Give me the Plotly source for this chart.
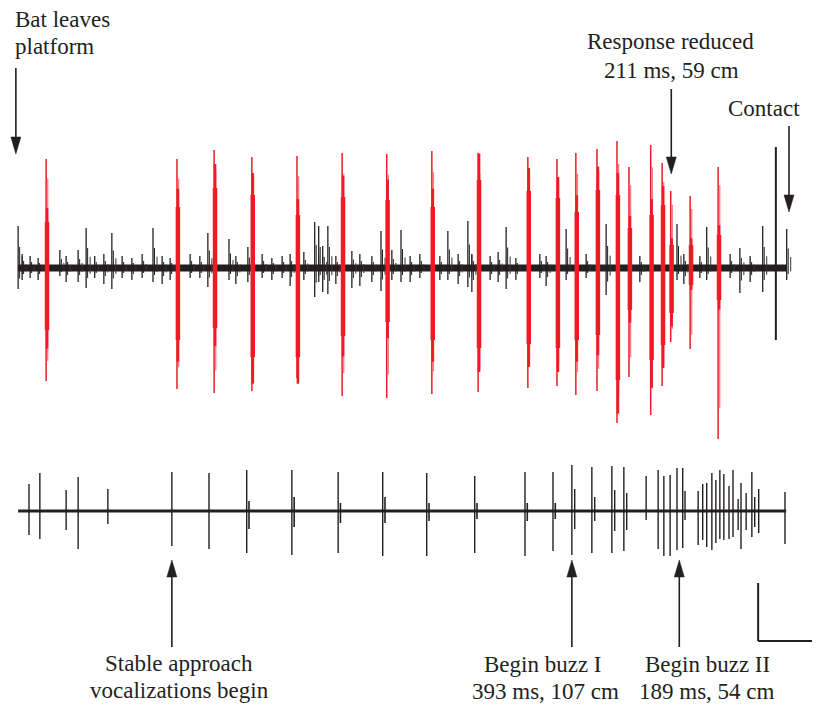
import plotly.graph_objects as go

# ---------------- DATA (time in ms relative to contact; amplitudes in a.u.) ----------------
# Neural recording (top trace): red evoked bursts
burst_t = [-1300, -1071, -1006, -940, -861, -782, -704, -625, -544, -457,
           -406, -373, -336, -301, -280, -242, -222, -207, -173, -124]
burst_up = [109, 109, 118, 111, 112, 115, 114, 117, 115, 111,
            109, 115, 119, 127, 101, 123, 105, 77, 72, 101]
burst_down = [113, 121, 125, 123, 110, 128, 130, 126, 124, 120,
              118, 127, 123, 155, 109, 147, 118, 74, 81, 171]
burst_core_up = [46, 61, 80, 73, 53, 71, 68, 61, 88, 77,
                 70, 56, 78, 73, 40, 53, 63, 23, 23, 33]
burst_core_down = [62, 72, 60, 89, 89, 68, 54, 72, 80, 76,
                   80, 72, 67, 112, 42, 92, 77, 45, 17, 32]

# Neural recording: background (black) spikes
noise_t = [-1349, -1342, -1328, -1314, -1276, -1265, -1244, -1230, -1215, -1199,
           -1185, -1167, -1150, -1132, -1113, -1097, -1083, -1048, -1031, -1017,
           -980, -968, -947, -922, -905, -887, -873, -849, -830, -823,
           -816, -807, -793, -765, -751, -730, -714, -695, -679, -663,
           -646, -611, -597, -579, -562, -555, -523, -509, -495, -478,
           -436, -425, -390, -355, -320, -261, -196, -184, -156, -144,
           -103, -86, -68, -46, -4]
noise_up = [42, 14, 12, 10, 18, 12, 18, 40, 12, 14,
            35, 12, 10, 14, 40, 12, 10, 14, 12, 35,
            29, 12, 21, 14, 10, 12, 14, 16, 46, 42,
            22, 42, 12, 17, 14, 12, 37, 18, 38, 12,
            14, 12, 37, 14, 47, 14, 12, 16, 41, 10,
            14, 12, 39, 14, 44, 12, 44, 14, 12, 41,
            14, 20, 12, 42, 39]
noise_down = [21, 12, 10, 12, 8, 14, 14, 20, 10, 16,
              21, 10, 12, 10, 14, 16, 12, 10, 10, 19,
              12, 16, 14, 10, 12, 10, 18, 12, 29, 14,
              24, 26, 16, 20, 18, 14, 23, 12, 14, 14,
              10, 12, 12, 16, 19, 24, 12, 14, 21, 12,
              10, 18, 12, 10, 27, 14, 12, 16, 10, 12,
              10, 25, 14, 24, 12]
# large black unit at contact
contact_t = [-23]
contact_up = [121]
contact_down = [72]

# Echolocation audio (bottom trace): vocalizations
call_t = [-1330, -1311, -1265, -1244, -1192, -1080, -1015, -949, -870, -789,
          -711, -634, -550, -462, -413, -380, -375, -345, -340, -310,
          -305, -289, -284, -250, -229, -219, -208, -196, -186, -182,
          -159, -151, -144, -135, -128, -121, -114, -105, -98, -89,
          -84, -75, -65, -60, -53, -7]
call_up = [27, 38, 21, 34, 22, 39, 38, 41, 41, 39,
           39, 38, 35, 39, 39, 46, 22, 44, 14, 45,
           21, 44, 18, 35, 41, 35, 36, 43, 43, 20,
           20, 27, 28, 38, 31, 41, 37, 25, 41, 12,
           28, 18, 39, 14, 22, 19]
call_down = [24, 28, 19, 38, 13, 35, 38, 42, 44, 42,
             45, 45, 42, 45, 40, 44, 18, 42, 10, 42,
             20, 40, 19, 9, 38, 45, 45, 39, 37, 9,
             34, 29, 36, 39, 32, 28, 29, 28, 26, 19,
             38, 19, 26, 16, 22, 33]
# echoes following the calls
echo_t = [-945, -866, -785, -707, -630, -546, -458, -409]
echo_up = [10, 14, 8, 14, 8, 8, 8, 8]
echo_down = [18, 16, 12, 12, 10, 8, 10, 8]

trace_start = -1349
neural_end = -4
audio_end = -5

# annotations: (text, time ms, row, anchor)
label_lines = [
    ("Bat leaves", -1358, 19, "left"),
    ("platform", -1358, 46, "left"),
    ("Response reduced", -208, 41, "center"),
    ("211 ms, 59 cm", -206, 70, "center"),
    ("Contact", -44, 108, "center"),
    ("Stable approach", -1067, 663, "center"),
    ("vocalizations begin", -1067, 690, "center"),
    ("Begin buzz I", -430, 664, "center"),
    ("393 ms, 107 cm", -427, 691, "center"),
    ("Begin buzz II", -143, 664, "center"),
    ("189 ms, 54 cm", -143, 691, "center"),
]
# arrows: time, tail y, tip y
arrow_t = [-1353, -206, 0, -1080, -380, -192]
arrow_tail = [68, 89, 126, 647, 647, 647]
arrow_tip = [154, 174, 212, 560, 560, 560]

scale_ms = 100  # horizontal scale bar

# ---------------- LAYOUT CONSTANTS ----------------
MS_PER_PX = 1.75
PAGE_OFFSET = 8          # browser body margin
TOP_BASE = 268
BOT_BASE = 511
BLACK = "#231F20"
RED = "#ED1C24"
PINK = "rgba(237,28,36,0.55)"


def segs(ts, ups, downs, base, dx=0.0, frac=1.0):
    xs, ys = [], []
    for t, u, d in zip(ts, ups, downs):
        xs += [t + dx, t + dx, None]
        ys += [base - u * frac, base + d * frac, None]
    return xs, ys


fig = go.Figure()


def add_line(xs, ys, color, width):
    fig.add_trace(go.Scatter(x=xs, y=ys, mode="lines", line=dict(color=color, width=width),
                             hoverinfo="skip", showlegend=False))


# baselines (noise bands)
add_line([trace_start, neural_end], [TOP_BASE, TOP_BASE], BLACK, 7)
add_line([trace_start, audio_end], [BOT_BASE, BOT_BASE], BLACK, 3)

# neural background spikes (with fuzz)
x, y = segs(noise_t, noise_up, noise_down, TOP_BASE, dx=4 * MS_PER_PX, frac=0.28)
add_line(x, y, "#333", 1.0)
x, y = segs(noise_t, noise_up, noise_down, TOP_BASE, dx=1.5 * MS_PER_PX, frac=0.5)
add_line(x, y, BLACK, 1.0)
x, y = segs(noise_t, noise_up, noise_down, TOP_BASE)
add_line(x, y, BLACK, 1.3)
x, y = segs(contact_t, contact_up, contact_down, TOP_BASE)
add_line(x, y, BLACK, 2)

# red bursts
x, y = segs(burst_t, burst_up, burst_down, TOP_BASE, dx=1.6 * MS_PER_PX, frac=0.82)
add_line(x, y, PINK, 1.3)
x, y = segs(burst_t, burst_up, burst_down, TOP_BASE)
add_line(x, y, RED, 1.5)
x, y = segs(burst_t, burst_core_up, burst_core_down, TOP_BASE, dx=0.9 * MS_PER_PX, frac=1.3)
add_line(x, y, RED, 2.6)
x, y = segs(burst_t, burst_core_up, burst_core_down, TOP_BASE, dx=0.9 * MS_PER_PX)
add_line(x, y, RED, 4.5)

# audio
x, y = segs(echo_t, echo_up, echo_down, BOT_BASE)
add_line(x, y, BLACK, 1.6)
x, y = segs(call_t, call_up, call_down, BOT_BASE)
add_line(x, y, BLACK, 1.4)

font = dict(family="Liberation Serif, Times New Roman, serif", size=23, color=BLACK)
for text, t, row, anchor in label_lines:
    fig.add_annotation(x=t, y=row, xref="x", yref="y", text=text, showarrow=False,
                       xanchor=anchor, yanchor="middle", font=font)

HEAD_LEN = 17
HEAD_HALF = 5 * MS_PER_PX
for t, tail, tip in zip(arrow_t, arrow_tail, arrow_tip):
    direction = 1 if tip > tail else -1
    base_y = tip - direction * HEAD_LEN
    fig.add_shape(type="line", x0=t, x1=t, y0=tail, y1=base_y, xref="x", yref="y",
                  line=dict(color=BLACK, width=1.6))
    fig.add_shape(type="path", xref="x", yref="y",
                  path=f"M{t - HEAD_HALF},{base_y} L{t + HEAD_HALF},{base_y} L{t},{tip} Z",
                  fillcolor=BLACK, line=dict(color=BLACK, width=0.5))

# scale bar (100 ms)
sb_x0 = -54
fig.add_shape(type="line", x0=sb_x0, x1=sb_x0, y0=583, y1=641, xref="x", yref="y",
              line=dict(color=BLACK, width=2))
fig.add_shape(type="line", x0=sb_x0, x1=sb_x0 + scale_ms, y0=641, y1=641, xref="x", yref="y",
              line=dict(color=BLACK, width=2))

fig.update_layout(
    width=820 - PAGE_OFFSET, height=706 - PAGE_OFFSET,
    margin=dict(l=0, r=0, t=0, b=0),
    paper_bgcolor="white", plot_bgcolor="white",
    xaxis=dict(range=[(PAGE_OFFSET - 789) * MS_PER_PX, 31 * MS_PER_PX], visible=False, fixedrange=True),
    yaxis=dict(range=[706, PAGE_OFFSET], visible=False, fixedrange=True),
    showlegend=False,
)

fig.write_html("out.html")
